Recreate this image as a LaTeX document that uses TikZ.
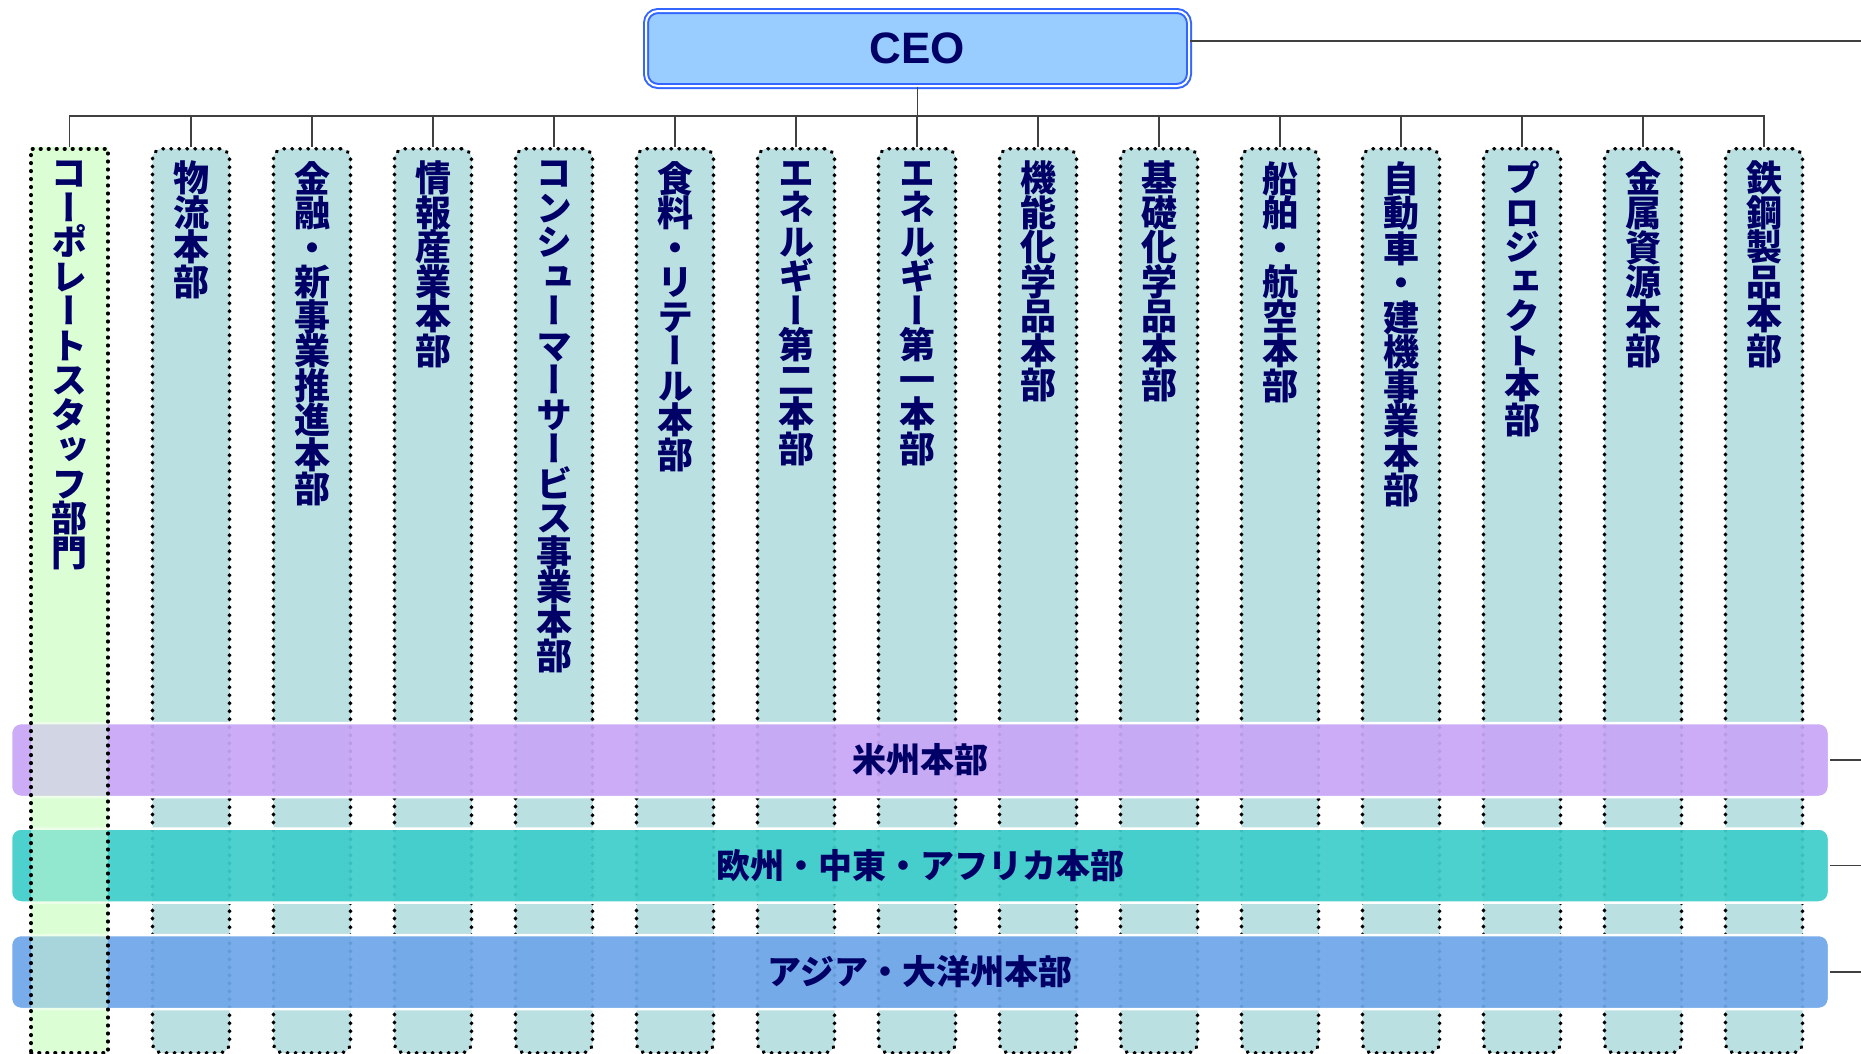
\documentclass[tikz,border=0pt]{standalone}
\usepackage{fontspec}
\setmainfont{Liberation Sans}
\newfontfamily\jpv[RawFeature=+vert]{Noto Sans CJK JP}
\newfontfamily\jph{Noto Sans CJK JP}
\usetikzlibrary{positioning}

\definecolor{navy}{RGB}{0,0,102}
\definecolor{ceofill}{RGB}{153,204,255}
\definecolor{ceoline}{RGB}{51,102,255}
\definecolor{deptfill}{RGB}{186,224,226}
\definecolor{staffgreen}{RGB}{220,254,212}
\definecolor{amerfill}{RGB}{200,166,246}
\definecolor{emeafill}{RGB}{62,205,203}
\definecolor{asiafill}{RGB}{110,166,232}
\definecolor{linkgray}{RGB}{64,64,64}

% one character per line
\newcommand\tate[1]{\tatei#1\relax}
\def\tatei#1{\ifx#1\relax\else#1\\\expandafter\tatei\fi}

\begin{document}
\begin{tikzpicture}[x=1pt, y=-1pt,
    ceo/.style={rectangle, rounded corners=12pt, draw=ceoline, line width=2pt, double=white, double distance=2pt, fill=ceofill, minimum width=543pt, minimum height=75pt, inner sep=0pt, text=navy, font=\bfseries\fontsize{44}{48}\selectfont},
    dept/.style={rectangle, draw=black, line width=3.6pt, dash pattern=on 0.6pt off 7.4pt, line cap=round, fill=deptfill, rounded corners=10pt, minimum width=77pt, minimum height=904pt, anchor=north, inner sep=0pt},
    dname/.style={anchor=north, inner sep=0pt, align=center, text=navy, font=\jpv\bfseries\fontsize{36}{34.5}\selectfont},
    region/.style={rectangle, rounded corners=10pt, draw=white, line width=2.5pt, fill opacity=0.93, text opacity=1, minimum width=1818pt, minimum height=74pt, inner sep=0pt, text=navy, font=\jph\bfseries\fontsize{34}{40}\selectfont},
    link/.style={draw=linkgray, line width=1.6pt}
]
\useasboundingbox (0,0) rectangle (1861,1053);

\node[ceo] (ceo) at (917.5,48.5) {CEO};
\coordinate (bus) at (0,116);
\coordinate (rim) at (1861,0);

% business divisions
\node[dept] (d2) at (191,147) {};
\node[dept] (d3) at (312,147) {};
\node[dept] (d4) at (433,147) {};
\node[dept] (d5) at (554,147) {};
\node[dept] (d6) at (675,147) {};
\node[dept] (d7) at (796,147) {};
\node[dept] (d8) at (917,147) {};
\node[dept] (d9) at (1038,147) {};
\node[dept] (d10) at (1159,147) {};
\node[dept] (d11) at (1280,147) {};
\node[dept] (d12) at (1401,147) {};
\node[dept] (d13) at (1522,147) {};
\node[dept] (d14) at (1643,147) {};
\node[dept] (d15) at (1764,147) {};

\node[dname, below=14pt of d2.north] (n2) {\tate{物流本部}};
\node[dname, below=14pt of d3.north] (n3) {\tate{金融・新事業推進本部}};
\node[dname, below=14pt of d4.north] (n4) {\tate{情報産業本部}};
\node[dname, below=14pt of d5.north] (n5) {\tate{コンシューマーサービス事業本部}};
\node[dname, below=14pt of d6.north] (n6) {\tate{食料・リテール本部}};
\node[dname, below=14pt of d7.north] (n7) {\tate{エネルギー第二本部}};
\node[dname, below=14pt of d8.north] (n8) {\tate{エネルギー第一本部}};
\node[dname, below=14pt of d9.north] (n9) {\tate{機能化学品本部}};
\node[dname, below=14pt of d10.north] (n10) {\tate{基礎化学品本部}};
\node[dname, below=14pt of d11.north] (n11) {\tate{船舶・航空本部}};
\node[dname, below=14pt of d12.north] (n12) {\tate{自動車・建機事業本部}};
\node[dname, below=14pt of d13.north] (n13) {\tate{プロジェクト本部}};
\node[dname, below=14pt of d14.north] (n14) {\tate{金属資源本部}};
\node[dname, below=14pt of d15.north] (n15) {\tate{鉄鋼製品本部}};

% green under the bands
\fill[staffgreen] (31,147) rectangle (108,1051);

% regional headquarters
\node[region, fill=amerfill] (amer) at (920,760) {米州本部};
\node[region, fill=emeafill] (emea) at (920,865.5) {欧州・中東・アフリカ本部};
\node[region, fill=asiafill] (asia) at (920,972) {アジア・大洋州本部};

% corporate staff on top of the bands
\node[dept, fill=staffgreen, fill opacity=0.5, draw opacity=1, rounded corners=0pt] (d1) at (69.5,147) {};
\node[dname, below=14pt of d1.north] (n1) {\tate{コーポレートスタッフ部門}};

\draw[link] (ceo.south) -- (ceo.south |- bus);
\draw[link] (d1.north) -- (d1.north |- bus) -- (d15.north |- bus) -- (d15.north);
\foreach \i in {2,...,14} \draw[link] (d\i.north) -- (d\i.north |- bus);
\draw[link] ([yshift=7.5pt]ceo.east) -- ([yshift=7.5pt]ceo.east -| rim);
\draw[link] (amer.east) -- (amer.east -| rim);
\draw[link] (emea.east) -- (emea.east -| rim);
\draw[link] (asia.east) -- (asia.east -| rim);
\end{tikzpicture}
\end{document}
